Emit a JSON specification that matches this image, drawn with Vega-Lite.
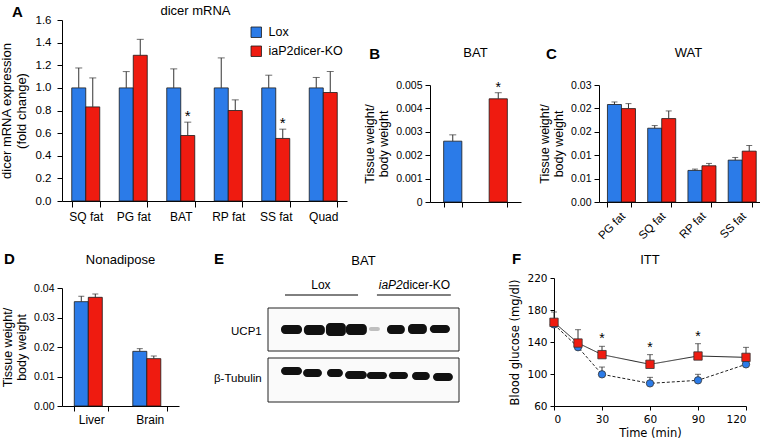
{
  "$schema": "https://vega.github.io/schema/vega-lite/v6.json",
  "background": "white",
  "padding": {"left": 0, "top": 5, "right": 0, "bottom": 0},
  "config": {
    "font": "Liberation Sans",
    "view": {"stroke": null},
    "axis": {"grid": false, "labelOverlap": false, "domainColor": "#000", "tickColor": "#000", "labelColor": "#000", "titleColor": "#000", "titleFontWeight": "normal", "labelFontSize": 10.5, "titleFontSize": 12.5, "tickSize": 5, "labelPadding": 3, "titlePadding": 5},
    "title": {"fontWeight": "normal", "fontSize": 13, "color": "#000", "frame": "group"},
    "legend": {"labelColor": "#000"}
  },
  "datasets": {
    "dicer": [
      {"tissue": "SQ fat", "genotype": "Lox", "value": 1.0, "err": 1.176, "sig": false},
      {"tissue": "SQ fat", "genotype": "iaP2dicer-KO", "value": 0.832, "err": 1.088, "sig": false},
      {"tissue": "PG fat", "genotype": "Lox", "value": 1.0, "err": 1.144, "sig": false},
      {"tissue": "PG fat", "genotype": "iaP2dicer-KO", "value": 1.288, "err": 1.429, "sig": false},
      {"tissue": "BAT", "genotype": "Lox", "value": 1.0, "err": 1.168, "sig": false},
      {"tissue": "BAT", "genotype": "iaP2dicer-KO", "value": 0.579, "err": 0.697, "sig": true},
      {"tissue": "RP fat", "genotype": "Lox", "value": 1.0, "err": 1.265, "sig": false},
      {"tissue": "RP fat", "genotype": "iaP2dicer-KO", "value": 0.8, "err": 0.894, "sig": false},
      {"tissue": "SS fat", "genotype": "Lox", "value": 1.0, "err": 1.112, "sig": false},
      {"tissue": "SS fat", "genotype": "iaP2dicer-KO", "value": 0.553, "err": 0.635, "sig": true},
      {"tissue": "Quad", "genotype": "Lox", "value": 1.0, "err": 1.092, "sig": false},
      {"tissue": "Quad", "genotype": "iaP2dicer-KO", "value": 0.959, "err": 1.145, "sig": false}
    ],
    "bat": [
      {"genotype": "Lox", "value": 0.0026, "err": 0.00287, "sig": false},
      {"genotype": "iaP2dicer-KO", "value": 0.00441, "err": 0.00467, "sig": true}
    ],
    "wat": [
      {"tissue": "PG fat", "genotype": "Lox", "value": 0.025, "err": 0.02565},
      {"tissue": "PG fat", "genotype": "iaP2dicer-KO", "value": 0.02395, "err": 0.02523},
      {"tissue": "SQ fat", "genotype": "Lox", "value": 0.01892, "err": 0.0196},
      {"tissue": "SQ fat", "genotype": "iaP2dicer-KO", "value": 0.02139, "err": 0.02335},
      {"tissue": "RP fat", "genotype": "Lox", "value": 0.0081, "err": 0.00844},
      {"tissue": "RP fat", "genotype": "iaP2dicer-KO", "value": 0.00929, "err": 0.00989},
      {"tissue": "SS fat", "genotype": "Lox", "value": 0.01074, "err": 0.01142},
      {"tissue": "SS fat", "genotype": "iaP2dicer-KO", "value": 0.01304, "err": 0.01449}
    ],
    "nonadipose": [
      {"tissue": "Liver", "genotype": "Lox", "value": 0.03537, "err": 0.0372},
      {"tissue": "Liver", "genotype": "iaP2dicer-KO", "value": 0.03684, "err": 0.03797},
      {"tissue": "Brain", "genotype": "Lox", "value": 0.01853, "err": 0.01944},
      {"tissue": "Brain", "genotype": "iaP2dicer-KO", "value": 0.01605, "err": 0.01695}
    ],
    "itt": [
      {"time": 0, "genotype": "Lox", "value": 162, "err": 168, "sig": false},
      {"time": 15, "genotype": "Lox", "value": 133.5, "err": 140, "sig": false},
      {"time": 30, "genotype": "Lox", "value": 99.6, "err": 108.7, "sig": false},
      {"time": 60, "genotype": "Lox", "value": 88.3, "err": 95.8, "sig": false},
      {"time": 90, "genotype": "Lox", "value": 92.1, "err": 99.6, "sig": false},
      {"time": 120, "genotype": "Lox", "value": 112.1, "err": 116, "sig": false},
      {"time": 0, "genotype": "iaP2dicer-KO", "value": 164.6, "err": 177.5, "sig": false},
      {"time": 15, "genotype": "iaP2dicer-KO", "value": 138.7, "err": 155.4, "sig": false},
      {"time": 30, "genotype": "iaP2dicer-KO", "value": 124.2, "err": 134.6, "sig": true},
      {"time": 60, "genotype": "iaP2dicer-KO", "value": 112.1, "err": 124.2, "sig": true},
      {"time": 90, "genotype": "iaP2dicer-KO", "value": 122.5, "err": 137.9, "sig": true},
      {"time": 120, "genotype": "iaP2dicer-KO", "value": 120.8, "err": 133.3, "sig": false}
    ],
    "blotBoxes": [
      {"protein": "UCP1", "x1": 0, "x2": 9.1, "y1": 51, "y2": 94},
      {"protein": "β-Tubulin", "x1": 0, "x2": 9.1, "y1": 0, "y2": 44}
    ],
    "bands": [
      {"protein": "UCP1", "lane": 1, "x1": 0.62, "x2": 1.62, "y1": 68, "y2": 77, "intensity": 1},
      {"protein": "UCP1", "lane": 2, "x1": 1.71, "x2": 2.71, "y1": 67, "y2": 77, "intensity": 1},
      {"protein": "UCP1", "lane": 3, "x1": 2.76, "x2": 3.71, "y1": 66, "y2": 79, "intensity": 1},
      {"protein": "UCP1", "lane": 4, "x1": 3.71, "x2": 4.71, "y1": 67, "y2": 78, "intensity": 1},
      {"protein": "UCP1", "lane": 5, "x1": 4.81, "x2": 5.33, "y1": 71, "y2": 75, "intensity": 0.25},
      {"protein": "UCP1", "lane": 6, "x1": 5.67, "x2": 6.52, "y1": 68, "y2": 77, "intensity": 1},
      {"protein": "UCP1", "lane": 7, "x1": 6.67, "x2": 7.57, "y1": 68, "y2": 78, "intensity": 1},
      {"protein": "UCP1", "lane": 8, "x1": 7.71, "x2": 8.67, "y1": 69, "y2": 77, "intensity": 1},
      {"protein": "β-Tubulin", "lane": 1, "x1": 0.62, "x2": 1.62, "y1": 27, "y2": 35, "intensity": 1},
      {"protein": "β-Tubulin", "lane": 2, "x1": 1.67, "x2": 2.57, "y1": 25, "y2": 33, "intensity": 1},
      {"protein": "β-Tubulin", "lane": 3, "x1": 2.81, "x2": 3.57, "y1": 25, "y2": 33, "intensity": 1},
      {"protein": "β-Tubulin", "lane": 4, "x1": 3.67, "x2": 4.71, "y1": 23, "y2": 31, "intensity": 1},
      {"protein": "β-Tubulin", "lane": 5, "x1": 4.71, "x2": 5.67, "y1": 23, "y2": 30, "intensity": 1},
      {"protein": "β-Tubulin", "lane": 6, "x1": 5.76, "x2": 6.67, "y1": 23, "y2": 30, "intensity": 1},
      {"protein": "β-Tubulin", "lane": 7, "x1": 6.86, "x2": 7.71, "y1": 22, "y2": 30, "intensity": 1},
      {"protein": "β-Tubulin", "lane": 8, "x1": 7.86, "x2": 8.81, "y1": 21, "y2": 29, "intensity": 1}
    ],
    "rowLabels": [
      {"label": "UCP1", "x": -0.3, "y": 70},
      {"label": "β-Tubulin", "x": -0.3, "y": 23}
    ],
    "groupLabels": [
      {"label": "Lox", "segment": "whole", "x": 2.52, "y": 117},
      {"label": "iaP2", "segment": "gene", "x": 6.42, "y": 117},
      {"label": "dicer-KO", "segment": "suffix", "x": 6.42, "y": 117}
    ],
    "groupLines": [
      {"group": "Lox", "x1": 0.81, "x2": 4.29, "y": 107},
      {"group": "iaP2dicer-KO", "x1": 5.19, "x2": 8.71, "y": 107}
    ]
  },
  "resolve": {"scale": {"color": "independent"}, "legend": {"color": "independent"}},
  "spacing": 10,
  "vconcat": [
    {
      "resolve": {"scale": {"color": "independent"}, "legend": {"color": "independent"}},
      "columns": 2, "align": "none",
      "spacing": 16,
      "concat": [
        {
          "title": {"text": "A", "anchor": "start", "frame": "bounds", "fontSize": 15, "fontWeight": "bold", "offset": -15, "dx": 12},
          "resolve": {"scale": {"color": "independent"}, "legend": {"color": "independent"}},
          "vconcat": [
            {
              "width": 285, "height": 181,
              "title": {"text": "dicer mRNA", "offset": -4, "dx": -9},
              "data": {"name": "dicer"},
              "encoding": {
                "x": {"field": "tissue", "type": "nominal", "sort": ["SQ fat", "PG fat", "BAT", "RP fat", "SS fat", "Quad"], "scale": {"paddingInner": 0.41, "paddingOuter": 0.205}, "axis": {"title": null, "labelAngle": 0, "labelFontSize": 12, "tickBand": "extent", "tickSize": 6, "labelPadding": 4}},
                "xOffset": {"field": "genotype", "type": "nominal", "sort": ["Lox", "iaP2dicer-KO"]}
              },
              "layer": [
                {
                  "mark": {"type": "bar", "stroke": "#1a1a1a", "strokeWidth": 0.8},
                  "encoding": {
                    "y": {"field": "value", "type": "quantitative", "scale": {"domain": [0, 1.6], "nice": false}, "axis": {"values": [0, 0.2, 0.4, 0.6, 0.8, 1.0, 1.2, 1.4, 1.6], "tickCount": 9, "labelOverlap": false, "format": ".1f", "labelFontSize": 11.5, "labelPadding": 6, "titlePadding": 7, "title": ["dicer mRNA expression", "(fold change)"], "titleFontSize": 13}},
                    "color": {"field": "genotype", "type": "nominal", "scale": {"domain": ["Lox", "iaP2dicer-KO"], "range": ["#2b7be8", "#ef1b10"]}, "legend": {"title": null, "orient": "none", "legendX": 188, "legendY": 6, "symbolType": "square", "symbolSize": 110, "symbolStrokeColor": "#1a1a1a", "symbolStrokeWidth": 0.8, "symbolOpacity": 1, "labelFontSize": 12.5, "labelOffset": 6, "rowPadding": 4, "padding": 0}}
                  }
                },
                {"mark": {"type": "rule", "color": "#333"}, "encoding": {"y": {"field": "value", "type": "quantitative"}, "y2": {"field": "err"}}},
                {"mark": {"type": "tick", "color": "#333", "orient": "horizontal", "size": 7, "thickness": 1}, "encoding": {"y": {"field": "err", "type": "quantitative"}}},
                {"transform": [{"filter": "datum.sig"}], "mark": {"type": "text", "text": "*", "fontSize": 15, "dy": -6}, "encoding": {"y": {"field": "err", "type": "quantitative"}}}
              ]
            }
          ]
        },
        {
          "resolve": {"scale": {"color": "independent"}, "legend": {"color": "independent"}},
          "columns": 1, "align": "none",
          "spacing": 1,
          "concat": [
            {"width": 20, "height": 26, "data": {"values": []}, "mark": "point", "encoding": {}},
            {
              "resolve": {"scale": {"color": "independent"}, "legend": {"color": "independent"}},
              "columns": 2, "align": "none",
              "spacing": 17,
              "concat": [
                {
                  "title": {"text": "B", "anchor": "start", "frame": "bounds", "fontSize": 15, "fontWeight": "bold", "offset": -15, "dx": 6},
                  "resolve": {"scale": {"color": "independent"}, "legend": {"color": "independent"}},
                  "vconcat": [
                    {
                      "width": 91, "height": 117,
                      "title": {"text": "BAT", "offset": 20},
                      "data": {"name": "bat"},
                      "encoding": {"x": {"field": "genotype", "type": "nominal", "sort": ["Lox", "iaP2dicer-KO"], "scale": {"paddingInner": 0.6, "paddingOuter": 0.3}, "axis": {"labels": false, "title": null, "tickBand": "extent", "tickSize": 5}}},
                      "layer": [
                        {
                          "mark": {"type": "bar", "stroke": "#1a1a1a", "strokeWidth": 0.8},
                          "encoding": {
                            "y": {"field": "value", "type": "quantitative", "scale": {"domain": [0, 0.005], "nice": false}, "axis": {"values": [0, 0.001, 0.002, 0.003, 0.004, 0.005], "tickCount": 6, "labelOverlap": false, "labelExpr": "datum.value == 0 ? '0' : format(datum.value, '.3f')", "title": ["Tissue weight/", "body weight"]}},
                            "color": {"field": "genotype", "type": "nominal", "scale": {"domain": ["Lox", "iaP2dicer-KO"], "range": ["#2b7be8", "#ef1b10"]}, "legend": null}
                          }
                        },
                        {"mark": {"type": "rule", "color": "#333"}, "encoding": {"y": {"field": "value", "type": "quantitative"}, "y2": {"field": "err"}}},
                        {"mark": {"type": "tick", "color": "#333", "orient": "horizontal", "size": 7, "thickness": 1}, "encoding": {"y": {"field": "err", "type": "quantitative"}}},
                        {"transform": [{"filter": "datum.sig"}], "mark": {"type": "text", "text": "*", "fontSize": 14, "dy": -5}, "encoding": {"y": {"field": "err", "type": "quantitative"}}}
                      ]
                    }
                  ]
                },
                {
                  "title": {"text": "C", "anchor": "start", "frame": "bounds", "fontSize": 15, "fontWeight": "bold", "offset": -15, "dx": 8},
                  "resolve": {"scale": {"color": "independent"}, "legend": {"color": "independent"}},
                  "vconcat": [
                    {
                      "width": 161, "height": 117,
                      "title": {"text": "WAT", "offset": 20, "dx": 9},
                      "data": {"name": "wat"},
                      "encoding": {
                        "x": {"field": "tissue", "type": "nominal", "sort": ["PG fat", "SQ fat", "RP fat", "SS fat"], "scale": {"paddingInner": 0.42, "paddingOuter": 0.21}, "axis": {"title": null, "labelAngle": -45, "labelFontSize": 11.5, "tickBand": "extent", "tickSize": 5}},
                        "xOffset": {"field": "genotype", "type": "nominal", "sort": ["Lox", "iaP2dicer-KO"]}
                      },
                      "layer": [
                        {
                          "mark": {"type": "bar", "stroke": "#1a1a1a", "strokeWidth": 0.8},
                          "encoding": {
                            "y": {"field": "value", "type": "quantitative", "scale": {"domain": [0, 0.03], "nice": false}, "axis": {"values": [0, 0.006, 0.012, 0.018, 0.024, 0.03], "tickCount": 6, "labelOverlap": false, "format": ".2f", "title": ["Tissue weight/", "body weight"]}},
                            "color": {"field": "genotype", "type": "nominal", "scale": {"domain": ["Lox", "iaP2dicer-KO"], "range": ["#2b7be8", "#ef1b10"]}, "legend": null}
                          }
                        },
                        {"mark": {"type": "rule", "color": "#333"}, "encoding": {"y": {"field": "value", "type": "quantitative"}, "y2": {"field": "err"}}},
                        {"mark": {"type": "tick", "color": "#333", "orient": "horizontal", "size": 6, "thickness": 1}, "encoding": {"y": {"field": "err", "type": "quantitative"}}}
                      ]
                    }
                  ]
                }
              ]
            }
          ]
        }
      ]
    },
    {
      "resolve": {"scale": {"color": "independent"}, "legend": {"color": "independent"}},
      "columns": 2, "align": "none",
      "spacing": 34,
      "concat": [
        {
          "title": {"text": "D", "anchor": "start", "frame": "bounds", "fontSize": 15, "fontWeight": "bold", "offset": -15, "dx": 3},
          "resolve": {"scale": {"color": "independent"}, "legend": {"color": "independent"}},
          "columns": 1, "align": "none",
          "spacing": 1,
          "concat": [
            {"width": 10, "height": 1, "data": {"values": []}, "mark": "point", "encoding": {}},
            {
              "width": 117, "height": 118,
              "title": {"text": "Nonadipose", "offset": 16},
              "data": {"name": "nonadipose"},
              "encoding": {
                "x": {"field": "tissue", "type": "nominal", "sort": ["Liver", "Brain"], "scale": {"paddingInner": 0.42, "paddingOuter": 0.21}, "axis": {"title": null, "labelAngle": 0, "labelFontSize": 12, "tickBand": "extent", "tickSize": 5}},
                "xOffset": {"field": "genotype", "type": "nominal", "sort": ["Lox", "iaP2dicer-KO"]}
              },
              "layer": [
                {
                  "mark": {"type": "bar", "stroke": "#1a1a1a", "strokeWidth": 0.8},
                  "encoding": {
                    "y": {"field": "value", "type": "quantitative", "scale": {"domain": [0, 0.04], "nice": false}, "axis": {"values": [0, 0.01, 0.02, 0.03, 0.04], "tickCount": 5, "labelOverlap": false, "format": ".2f", "title": ["Tissue weight/", "body weight"]}},
                    "color": {"field": "genotype", "type": "nominal", "scale": {"domain": ["Lox", "iaP2dicer-KO"], "range": ["#2b7be8", "#ef1b10"]}, "legend": null}
                  }
                },
                {"mark": {"type": "rule", "color": "#333"}, "encoding": {"y": {"field": "value", "type": "quantitative"}, "y2": {"field": "err"}}},
                {"mark": {"type": "tick", "color": "#333", "orient": "horizontal", "size": 6, "thickness": 1}, "encoding": {"y": {"field": "err", "type": "quantitative"}}}
              ]
            }
          ]
        },
        {
          "resolve": {"scale": {"color": "independent"}, "legend": {"color": "independent"}},
          "columns": 2, "align": "none",
          "spacing": 49,
          "concat": [
            {
              "title": {"text": "E", "anchor": "start", "frame": "bounds", "fontSize": 15, "fontWeight": "bold", "offset": -15, "dx": 0},
              "resolve": {"scale": {"color": "independent"}, "legend": {"color": "independent"}},
              "columns": 1, "align": "none",
              "spacing": 1,
              "concat": [
                {"width": 10, "height": 1, "data": {"values": []}, "mark": "point", "encoding": {}},
                {
                  "width": 191, "height": 94,
                  "title": {"text": "BAT", "offset": 11},
                  "layer": [
                    {
                      "data": {"name": "blotBoxes"},
                      "mark": {"type": "rect", "fill": "#fafafa", "stroke": "#222", "strokeWidth": 1},
                      "encoding": {
                        "x": {"field": "x1", "type": "quantitative", "scale": {"domain": [0, 9.1], "nice": false, "zero": false}, "axis": null},
                        "x2": {"field": "x2"},
                        "y": {"field": "y1", "type": "quantitative", "scale": {"domain": [0, 94], "nice": false, "zero": false}, "axis": null},
                        "y2": {"field": "y2"}
                      }
                    },
                    {
                      "data": {"name": "bands"},
                      "mark": {"type": "rect", "fill": "#111", "cornerRadius": 4},
                      "encoding": {
                        "x": {"field": "x1", "type": "quantitative"},
                        "x2": {"field": "x2"},
                        "y": {"field": "y1", "type": "quantitative"},
                        "y2": {"field": "y2"},
                        "opacity": {"field": "intensity", "type": "quantitative", "scale": null}
                      }
                    },
                    {
                      "data": {"name": "rowLabels"},
                      "mark": {"type": "text", "align": "right", "baseline": "middle", "fontSize": 11.5},
                      "encoding": {"x": {"field": "x", "type": "quantitative"}, "y": {"field": "y", "type": "quantitative"}, "text": {"field": "label"}}
                    },
                    {
                      "data": {"name": "groupLabels"},
                      "transform": [{"filter": "datum.segment == 'whole'"}],
                      "mark": {"type": "text", "align": "center", "baseline": "middle", "fontSize": 12},
                      "encoding": {"x": {"field": "x", "type": "quantitative"}, "y": {"field": "y", "type": "quantitative"}, "text": {"field": "label"}}
                    },
                    {
                      "data": {"name": "groupLabels"},
                      "transform": [{"filter": "datum.segment == 'gene'"}],
                      "mark": {"type": "text", "align": "right", "baseline": "middle", "fontSize": 12, "fontStyle": "italic"},
                      "encoding": {"x": {"field": "x", "type": "quantitative"}, "y": {"field": "y", "type": "quantitative"}, "text": {"field": "label"}}
                    },
                    {
                      "data": {"name": "groupLabels"},
                      "transform": [{"filter": "datum.segment == 'suffix'"}],
                      "mark": {"type": "text", "align": "left", "baseline": "middle", "fontSize": 12},
                      "encoding": {"x": {"field": "x", "type": "quantitative"}, "y": {"field": "y", "type": "quantitative"}, "text": {"field": "label"}}
                    },
                    {
                      "data": {"name": "groupLines"},
                      "mark": {"type": "rule", "color": "#000", "strokeWidth": 1},
                      "encoding": {"x": {"field": "x1", "type": "quantitative"}, "x2": {"field": "x2"}, "y": {"field": "y", "type": "quantitative"}}
                    }
                  ]
                }
              ]
            },
            {
              "title": {"text": "F", "anchor": "start", "frame": "bounds", "fontSize": 15, "fontWeight": "bold", "offset": -15, "dx": 2},
              "resolve": {"scale": {"color": "independent"}, "legend": {"color": "independent"}},
              "columns": 1, "align": "none",
              "spacing": 1,
              "concat": [
                {"width": 10, "height": 1, "data": {"values": []}, "mark": "point", "encoding": {}},
                {
                  "width": 192, "height": 128,
                  "title": {"text": "ITT", "offset": 6},
                  "data": {"name": "itt"},
                  "encoding": {"x": {"field": "time", "type": "quantitative", "scale": {"domain": [0, 120], "nice": false}, "axis": {"values": [0, 30, 60, 90, 120], "labelOverlap": false, "title": "Time (min)", "labelFont": "DejaVu Sans", "titleFont": "DejaVu Sans", "labelFontSize": 10.5, "titleFontSize": 11.5, "tickSize": 4, "titlePadding": 3, "labelPadding": 4}}},
                  "layer": [
                    {
                      "mark": {"type": "line", "color": "#222", "strokeWidth": 1},
                      "encoding": {
                        "y": {"field": "value", "type": "quantitative", "scale": {"domain": [60, 220], "nice": false, "zero": false}, "axis": {"values": [60, 100, 140, 180, 220], "tickCount": 5, "labelOverlap": false, "title": "Blood glucose (mg/dl)", "labelFont": "DejaVu Sans", "titleFont": "DejaVu Sans", "labelFontSize": 10.5, "titleFontSize": 11.5, "tickSize": 4, "titlePadding": 6}},
                        "strokeDash": {"field": "genotype", "type": "nominal", "scale": {"domain": ["Lox", "iaP2dicer-KO"], "range": [[3, 2], [1, 0]]}, "legend": null}
                      }
                    },
                    {"mark": {"type": "rule", "color": "#333"}, "encoding": {"y": {"field": "value", "type": "quantitative"}, "y2": {"field": "err"}}},
                    {"mark": {"type": "tick", "color": "#333", "orient": "horizontal", "size": 6, "thickness": 1}, "encoding": {"y": {"field": "err", "type": "quantitative"}}},
                    {
                      "mark": {"type": "point", "filled": true, "opacity": 1, "stroke": "#333", "strokeWidth": 0.8},
                      "encoding": {
                        "y": {"field": "value", "type": "quantitative"},
                        "shape": {"field": "genotype", "type": "nominal", "scale": {"domain": ["Lox", "iaP2dicer-KO"], "range": ["circle", "square"]}, "legend": null},
                        "color": {"field": "genotype", "type": "nominal", "scale": {"domain": ["Lox", "iaP2dicer-KO"], "range": ["#2b7be8", "#ef1b10"]}, "legend": null},
                        "size": {"field": "genotype", "type": "nominal", "scale": {"domain": ["Lox", "iaP2dicer-KO"], "range": [55, 70]}, "legend": null}
                      }
                    },
                    {"transform": [{"filter": "datum.sig"}], "mark": {"type": "text", "text": "*", "fontSize": 14, "dy": -7}, "encoding": {"y": {"field": "err", "type": "quantitative"}}}
                  ]
                }
              ]
            }
          ]
        }
      ]
    }
  ]
}
